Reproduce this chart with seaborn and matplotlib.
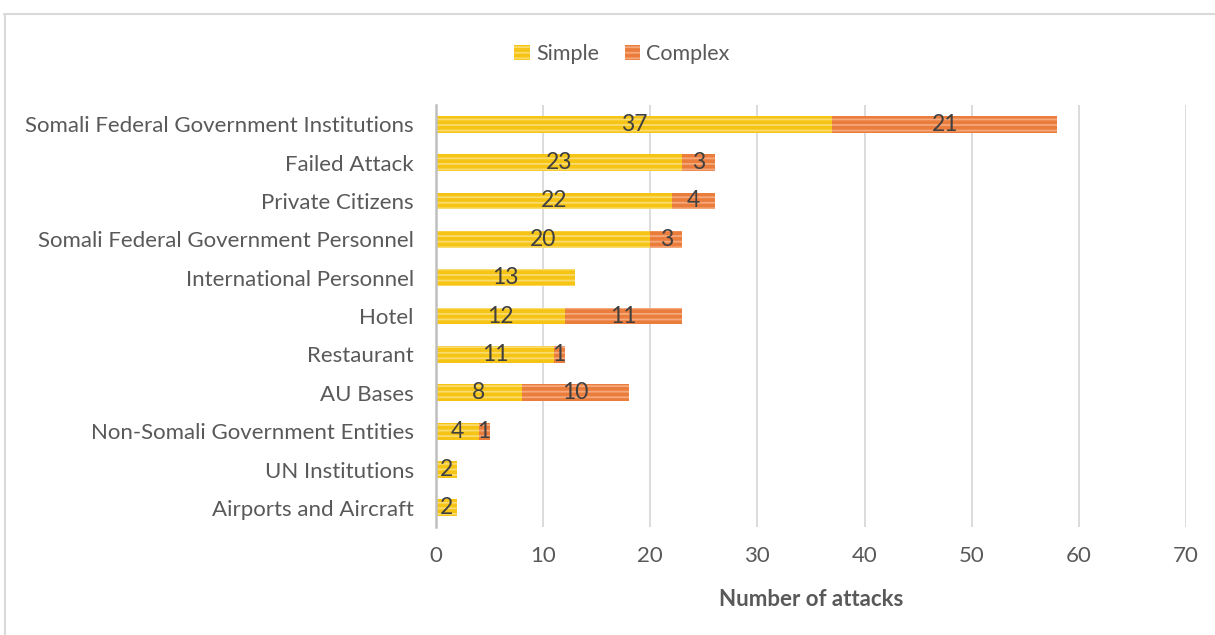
import pandas as pd
import matplotlib
matplotlib.use("Agg")
import matplotlib.pyplot as plt
import seaborn as sns
from matplotlib.patches import Patch

categories = [
    "Somali Federal Government Institutions",
    "Failed Attack",
    "Private Citizens",
    "Somali Federal Government Personnel",
    "International Personnel",
    "Hotel",
    "Restaurant",
    "AU Bases",
    "Non-Somali Government Entities",
    "UN Institutions",
    "Airports and Aircraft",
]
simple = [37, 23, 22, 20, 13, 12, 11, 8, 4, 2, 2]
complex_ = [21, 3, 4, 3, 0, 11, 1, 10, 1, 0, 0]

df = pd.DataFrame({"Target": categories, "Simple": simple, "Complex": complex_})
df["Total"] = df["Simple"] + df["Complex"]

sns.set_style("white")
plt.rcParams["font.family"] = ["Lato", "DejaVu Sans"]
plt.rcParams["hatch.linewidth"] = 1.3

yellow = "#F6C414"
orange = "#EB7D3C"
text_col = "#404040"

fig = plt.figure(figsize=(12.15, 6.35), dpi=100)
ax = fig.add_axes([0.3588, 0.170, 0.6173, 0.6646])

# complex segment = total bar, simple drawn over it
sns.barplot(data=df, y="Target", x="Total", orient="h", color=orange, width=0.44,
            saturation=1, ax=ax, edgecolor="#F5A87C", linewidth=0, hatch="---")
sns.barplot(data=df, y="Target", x="Simple", orient="h", color=yellow, width=0.44,
            saturation=1, ax=ax, edgecolor="#FADB6E", linewidth=0, hatch="---")

for i, (s, c) in enumerate(zip(simple, complex_)):
    ax.text(s / 2, i, str(s), ha="center", va="center", fontsize=16.5, color=text_col)
    if c > 0:
        ax.text(s + c / 2, i, str(c), ha="center", va="center", fontsize=16.5, color=text_col)

ax.set_xlim(0, 70)
ax.set_xticks(range(0, 71, 10))
ax.set_ylim(len(categories) - 0.5, -0.5)
ax.grid(axis="x", color="#D9D9D9", linewidth=1.3)
ax.set_axisbelow(True)
for side in ["top", "right", "bottom"]:
    ax.spines[side].set_visible(False)
ax.spines["left"].set_color("#BFBFBF")
ax.spines["left"].set_linewidth(1.8)
ax.tick_params(axis="both", length=0, labelsize=16, colors="#595959")
ax.tick_params(axis="y", pad=16)
ax.tick_params(axis="x", pad=14)
ax.set_ylabel("")
ax.set_xlabel("Number of attacks", fontsize=16, fontweight="bold", color="#595959", labelpad=16)

handles = [Patch(facecolor=yellow, edgecolor="#FADB6E", hatch="---", linewidth=0, label="Simple"),
           Patch(facecolor=orange, edgecolor="#F5A87C", hatch="---", linewidth=0, label="Complex")]
fig.legend(handles=handles, loc="center", bbox_to_anchor=(0.512, 0.915), ncol=2, frameon=False,
           fontsize=15.5, handlelength=0.7, handleheight=0.7, handletextpad=0.3, columnspacing=1.2,
           labelcolor="#595959")

# light frame like the original export
fig.add_artist(plt.Line2D([0.003, 1.0], [0.978, 0.978], color="#D9D9D9", linewidth=1.5,
                          transform=fig.transFigure))
fig.add_artist(plt.Line2D([0.004, 0.004], [0.0, 0.978], color="#D9D9D9", linewidth=1.5,
                          transform=fig.transFigure))

fig.savefig("out.png", dpi=100)
